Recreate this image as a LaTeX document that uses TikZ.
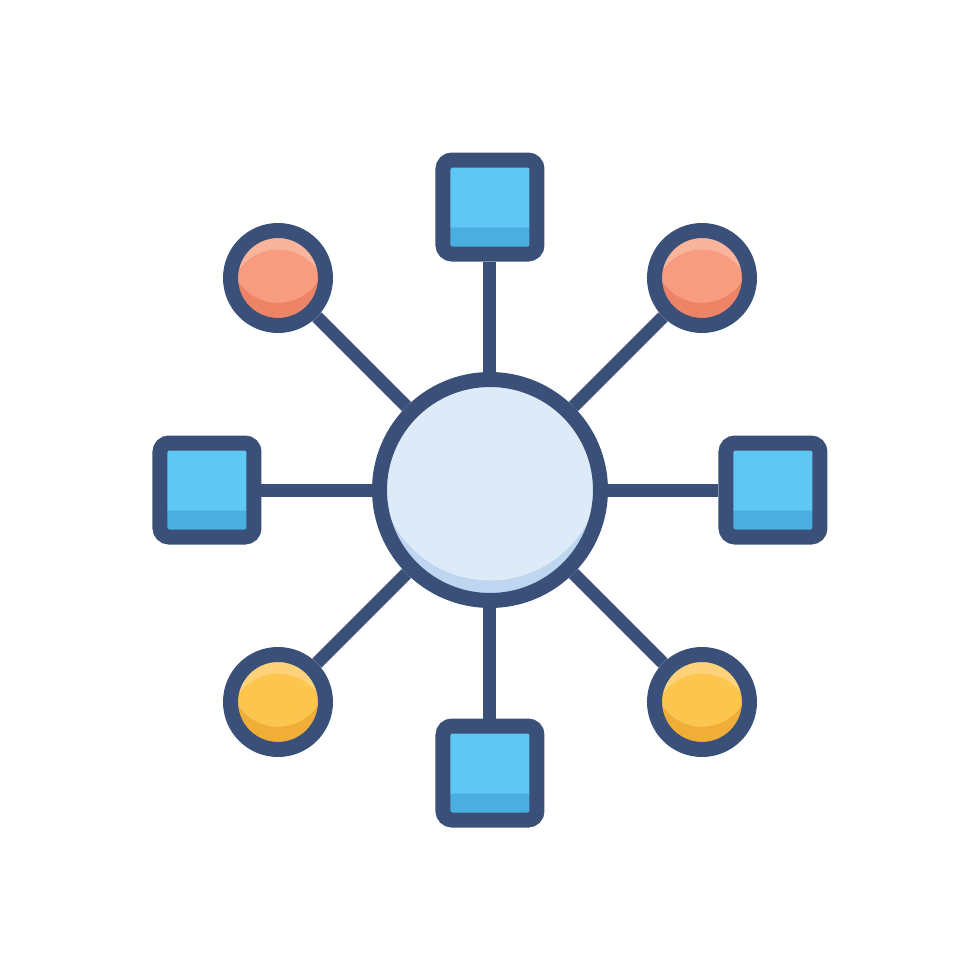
\documentclass[tikz,border=0pt]{standalone}
\usetikzlibrary{%
    backgrounds,
    calc,
    positioning
}
\definecolor{navy}{HTML}{3B5078}
\definecolor{hubfill}{HTML}{DDEBF8}
\definecolor{hubshade}{HTML}{BED6EF}
\definecolor{boxfill}{HTML}{5EC7F3}
\definecolor{boxshade}{HTML}{4BAEE0}
\definecolor{redfill}{HTML}{F89C7F}
\definecolor{redlight}{HTML}{F9B59C}
\definecolor{redshade}{HTML}{EE8466}
\definecolor{yelfill}{HTML}{FCC64E}
\definecolor{yellight}{HTML}{FDD27A}
\definecolor{yelshade}{HTML}{F0AE38}
\tikzset{link/.style = {draw=navy, line width=1.3mm}}

\begin{document}
\begin{tikzpicture}[
    node distance=2.83cm, on grid,
    hub/.style = {circle, draw=navy, line width=1.5mm, inner sep=0pt,
        minimum size=22.1mm, fill=hubshade,
        path picture={\fill[hubfill]
            ($(path picture bounding box.center)+(0,2mm)$) circle (11.05mm);}},
    box/.style = {rectangle, draw=navy, line width=1.5mm, inner sep=0pt,
        minimum size=9.4mm, rounded corners=0.9mm, fill=boxfill,
        path picture={\fill[boxshade]
            (path picture bounding box.south west) rectangle
            ($(path picture bounding box.south east)+(0,2.65mm)$);}},
    dot/.style n args = {3}{circle, draw=navy, line width=1.5mm, inner sep=0pt,
        minimum size=9.5mm, fill=#2,
        path picture={
            \fill[#3] ($(path picture bounding box.center)+(0,2.3mm)$) circle (4.75mm);
            \begin{scope}
                \clip ($(path picture bounding box.center)+(0,2.3mm)$) circle (4.75mm);
                \fill[#1] ($(path picture bounding box.center)-(0,1.9mm)$) circle (4.75mm);
            \end{scope}}}]
    \useasboundingbox (0,0) rectangle (9.8,9.8);

    \node[hub] (hub) at (4.9,4.9) {};
    \node[box] (top) [above=of hub] {};
    \node[box] (bottom) [below=of hub] {};
    \node[box] (left) [left=of hub] {};
    \node[box] (right) [right=of hub] {};
    \node[dot={redfill}{redshade}{redlight}] (tl) [above left=2.12cm and 2.12cm of hub] {};
    \node[dot={redfill}{redshade}{redlight}] (tr) [above right=2.12cm and 2.12cm of hub] {};
    \node[dot={yelfill}{yelshade}{yellight}] (bl) [below left=2.12cm and 2.12cm of hub] {};
    \node[dot={yelfill}{yelshade}{yellight}] (br) [below right=2.12cm and 2.12cm of hub] {};

    \begin{scope}[on background layer]
        \foreach \leaf in {top,bottom,left,right,tl,tr,bl,br}
            \draw[link] (hub) -- (\leaf);
    \end{scope}
\end{tikzpicture}
\end{document}
